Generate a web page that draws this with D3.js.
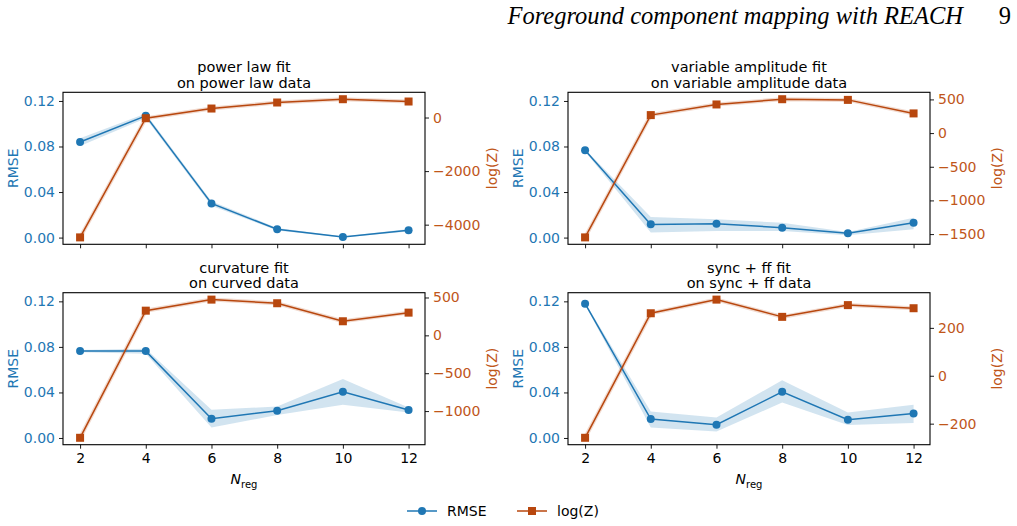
<!DOCTYPE html>
<html>
<head>
<meta charset="utf-8">
<script src="https://cdn.jsdelivr.net/npm/d3@7"></script>
<style>
  body { margin: 0; background: #fff; }
  svg text { font-family: "DejaVu Sans", sans-serif; }
</style>
</head>
<body>
<div id="chart"></div>
<script>
// N_reg values on the x axis
const nreg = [2, 4, 6, 8, 10, 12];
const xTicks = [2, 4, 6, 8, 10, 12];
const rmseTicks = [0.00, 0.04, 0.08, 0.12];

const titles = [
    ["power law fit", "on power law data"],
    ["variable amplitude fit", "on variable amplitude data"],
    ["curvature fit", "on curved data"],
    ["sync + ff fit", "on sync + ff data"]
];

// RMSE (mean) and its band, per panel
const rmsePower = [0.0839, 0.1069, 0.0300, 0.0073, 0.0005, 0.0064];
const rmsePowerLo = [0.0805, 0.1048, 0.0280, 0.0062, 0.0001, 0.0053];
const rmsePowerHi = [0.0873, 0.1090, 0.0320, 0.0084, 0.0010, 0.0076];

const rmseVar = [0.0766, 0.0116, 0.0122, 0.0087, 0.0038, 0.0131];
const rmseVarLo = [0.0756, 0.0044, 0.0058, 0.0058, 0.0020, 0.0073];
const rmseVarHi = [0.0776, 0.0180, 0.0160, 0.0131, 0.0049, 0.0175];

const rmseCurv = [0.0763, 0.0763, 0.0169, 0.0239, 0.0405, 0.0245];
const rmseCurvLo = [0.0753, 0.0740, 0.0093, 0.0201, 0.0291, 0.0224];
const rmseCurvHi = [0.0773, 0.0783, 0.0247, 0.0276, 0.0518, 0.0267];

const rmseSync = [0.1180, 0.0166, 0.0116, 0.0405, 0.0160, 0.0215];
const rmseSyncLo = [0.1170, 0.0093, 0.0058, 0.0311, 0.0114, 0.0131];
const rmseSyncHi = [0.1190, 0.0233, 0.0180, 0.0507, 0.0224, 0.0291];

// log(Z) per panel
const logzPower = [-4475, -26, 336, 561, 684, 598];
const logzVar = [-1549, 267, 425, 503, 493, 292];
const logzCurv = [-1353, 326, 472, 424, 186, 300];
const logzSync = [-259, 261, 318, 246, 295, 282];

const logzTicks = [
    [0, -2000, -4000],
    [500, 0, -500, -1000, -1500],
    [500, 0, -500, -1000],
    [200, 0, -200]
];

const panels = [
    {rmse: rmsePower, lo: rmsePowerLo, hi: rmsePowerHi, logz: logzPower},
    {rmse: rmseVar, lo: rmseVarLo, hi: rmseVarHi, logz: logzVar},
    {rmse: rmseCurv, lo: rmseCurvLo, hi: rmseCurvHi, logz: logzCurv},
    {rmse: rmseSync, lo: rmseSyncLo, hi: rmseSyncHi, logz: logzSync}
];

const blue = "#1f77b4", orange = "#b8470e", orangeText = "#c0561a";
const W = 1017, H = 526;
const lefts = [63, 568], tops = [92.3, 292.7];
const pw = 362, ph = 152;

const svg = d3.select("#chart").append("svg")
    .attr("width", W).attr("height", H);

// page header
svg.append("text")
    .attr("x", 963).attr("y", 24)
    .attr("text-anchor", "end")
    .style("font-family", "'Liberation Serif', serif")
    .style("font-style", "italic")
    .style("font-size", "24.5px")
    .text("Foreground component mapping with REACH");
svg.append("text")
    .attr("x", 1011).attr("y", 24)
    .attr("text-anchor", "end")
    .style("font-family", "'Liberation Serif', serif")
    .style("font-size", "24.5px")
    .text("9");

const fmt = d => d.toFixed(2);
const fmtZ = d => (d < 0 ? "\u2212" + Math.abs(d) : String(d));

panels.forEach(function(p, i) {
    var col = i % 2, row = Math.floor(i / 2);
    var g = svg.append("g")
        .attr("transform", "translate(" + lefts[col] + "," + tops[row] + ")");

    var x = d3.scaleLinear().domain([1.48, 12.5]).range([0, pw]);
    var y = d3.scaleLinear().domain([-0.0059, 0.1276]).range([ph, 0]);

    var ext = d3.extent(p.logz);
    var pad = (ext[1] - ext[0]) * 0.05;
    var y2 = d3.scaleLinear().domain([ext[0] - pad, ext[1] + pad]).range([ph, 0]);

    // RMSE band
    g.append("path")
        .datum(nreg.map((n, k) => ({n: n, lo: p.lo[k], hi: p.hi[k]})))
        .attr("fill", blue).attr("fill-opacity", 0.2)
        .attr("d", d3.area()
            .x(d => x(d.n))
            .y0(d => y(d.lo))
            .y1(d => y(d.hi)));

    // log(Z) faint band
    g.append("path")
        .datum(nreg.map((n, k) => ({n: n, v: p.logz[k]})))
        .attr("fill", "none")
        .attr("stroke", orange).attr("stroke-opacity", 0.2)
        .attr("stroke-width", 4)
        .attr("d", d3.line().x(d => x(d.n)).y(d => y2(d.v)));

    // RMSE line
    g.append("path")
        .datum(nreg.map((n, k) => ({n: n, v: p.rmse[k]})))
        .attr("fill", "none").attr("stroke", blue).attr("stroke-width", 1.5)
        .attr("d", d3.line().x(d => x(d.n)).y(d => y(d.v)));
    g.append("g").selectAll("circle")
        .data(nreg.map((n, k) => ({n: n, v: p.rmse[k]})))
        .enter().append("circle")
        .attr("cx", d => x(d.n)).attr("cy", d => y(d.v))
        .attr("r", 4).attr("fill", blue);

    // log(Z) line
    g.append("path")
        .datum(nreg.map((n, k) => ({n: n, v: p.logz[k]})))
        .attr("fill", "none").attr("stroke", orange).attr("stroke-width", 1.5)
        .attr("d", d3.line().x(d => x(d.n)).y(d => y2(d.v)));
    g.append("g").selectAll("rect")
        .data(nreg.map((n, k) => ({n: n, v: p.logz[k]})))
        .enter().append("rect")
        .attr("x", d => x(d.n) - 4).attr("y", d => y2(d.v) - 4)
        .attr("width", 8).attr("height", 8).attr("fill", orange);

    // axes
    var xAxis = g.append("g")
        .attr("transform", "translate(0," + ph + ")")
        .call(d3.axisBottom(x).tickValues(xTicks).tickSize(4).tickPadding(4)
            .tickFormat(row === 1 ? d3.format("d") : ""));
    var yAxis = g.append("g")
        .call(d3.axisLeft(y).tickValues(rmseTicks).tickSize(4).tickPadding(4).tickFormat(fmt));
    var y2Axis = g.append("g")
        .attr("transform", "translate(" + pw + ",0)")
        .call(d3.axisRight(y2).tickValues(logzTicks[i]).tickSize(4).tickPadding(4).tickFormat(fmtZ));

    [xAxis, yAxis, y2Axis].forEach(function(a) {
        a.select(".domain").remove();
        a.selectAll("line").attr("stroke", "#000").attr("stroke-width", 0.9);
        a.selectAll("text").style("font-size", "14px").attr("fill", "#000");
    });
    yAxis.selectAll("text").attr("fill", blue);
    y2Axis.selectAll("text").attr("fill", orangeText);

    // frame
    g.append("rect")
        .attr("width", pw).attr("height", ph)
        .attr("fill", "none").attr("stroke", "#000").attr("stroke-width", 1.1);

    // titles
    g.append("text").attr("x", pw / 2).attr("y", -20)
        .attr("text-anchor", "middle").style("font-size", "14.5px")
        .text(titles[i][0]);
    g.append("text").attr("x", pw / 2).attr("y", -4.5)
        .attr("text-anchor", "middle").style("font-size", "14.5px")
        .text(titles[i][1]);

    // axis labels
    g.append("text")
        .attr("transform", "translate(-45," + (ph / 2) + ") rotate(-90)")
        .attr("text-anchor", "middle").attr("fill", blue)
        .style("font-size", "14px").text("RMSE");
    g.append("text")
        .attr("transform", "translate(" + (pw + 72) + "," + (ph / 2) + ") rotate(-90)")
        .attr("text-anchor", "middle").attr("fill", orangeText)
        .style("font-size", "14px").text("log(Z)");

    if (row === 1) {
        var xl = g.append("text")
            .attr("x", pw / 2).attr("y", ph + 39)
            .attr("text-anchor", "middle").style("font-size", "14px");
        xl.append("tspan").style("font-style", "italic").text("N");
        xl.append("tspan").attr("dy", 4).style("font-size", "10px").text("reg");
    }
});

// legend
const legend = [
    {name: "RMSE", color: blue, shape: "circle", x: 407},
    {name: "log(Z)", color: orange, shape: "square", x: 517}
];
legend.forEach(function(l) {
    var g = svg.append("g").attr("transform", "translate(" + l.x + ",511)");
    g.append("line").attr("x1", 0).attr("x2", 30)
        .attr("stroke", l.color).attr("stroke-width", 1.5);
    if (l.shape === "circle") {
        g.append("circle").attr("cx", 15).attr("r", 4).attr("fill", l.color);
    } else {
        g.append("rect").attr("x", 11).attr("y", -4).attr("width", 8).attr("height", 8).attr("fill", l.color);
    }
    g.append("text").attr("x", 40).attr("y", 5).style("font-size", "14px").text(l.name);
});
</script>
</body>
</html>
